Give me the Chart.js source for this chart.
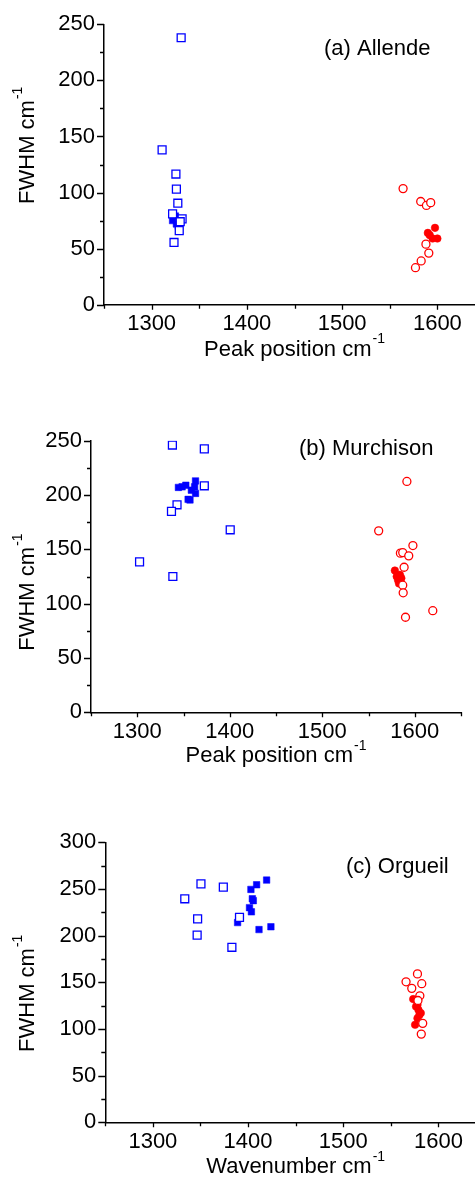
<!DOCTYPE html>
<html><head><meta charset="utf-8">
<script src="https://cdn.jsdelivr.net/npm/chart.js@4"></script>
<style>
html,body{margin:0;padding:0;background:#fff;overflow:hidden;width:475px;height:1178px;position:relative;}
.p{position:absolute;left:0;}
</style></head><body>
<canvas id="ca" class="p" style="top:0px" width="500" height="370"></canvas>
<canvas id="cb" class="p" style="top:380px" width="500" height="390"></canvas>
<canvas id="cc" class="p" style="top:790px" width="500" height="388"></canvas>
<script>
// ---------- Data ----------
// (a) Allende
const aSqOpenX = [1331, 1311, 1325.5, 1326, 1327.5, 1322, 1332, 1330, 1329, 1323.5];
const aSqOpenY = [238, 138, 116.5, 103, 90.5, 81, 76.5, 74, 66, 55.5];
const aSqFillX = [1322, 1325, 1326, 1328];
const aSqFillY = [75, 79, 72, 70];
const aCiOpenX = [1564, 1582.5, 1588.5, 1593, 1588, 1591, 1583, 1577];
const aCiOpenY = [103.5, 92, 88.5, 91, 54, 46, 39, 33];
const aCiFillX = [1597.5, 1590, 1592, 1595, 1600];
const aCiFillY = [68.5, 64, 62, 59, 59];
// (b) Murchison
const bSqOpenX = [1338, 1372.5, 1372.5, 1343, 1337, 1400.5, 1302.5, 1338.5];
const bSqOpenY = [246, 242.5, 208.5, 191, 185, 168, 138.5, 125];
const bSqFillX = [1344.5, 1348.5, 1352.5, 1363, 1362, 1358.5, 1363, 1355, 1357];
const bSqFillY = [207, 207.5, 209, 213, 207.5, 204.5, 201.5, 196, 195.5];
const bCiOpenX = [1591.5, 1561, 1598, 1584.5, 1587, 1593.5, 1588.5, 1587, 1587.5, 1590, 1619.5];
const bCiOpenY = [212.5, 167, 153.5, 146.5, 147, 144, 133.5, 117, 110, 87.5, 93.5];
const bCiFillX = [1578.5, 1580.5, 1582, 1584, 1583, 1585.5];
const bCiFillY = [130.5, 125, 121.5, 126.5, 118.5, 123.5];
// (c) Orgueil
const cSqOpenX = [1333.5, 1350.5, 1374, 1347, 1346.5, 1391, 1383];
const cSqOpenY = [239.5, 255.5, 252, 218, 200.5, 219.5, 187.5];
const cSqFillX = [1419.5, 1409, 1403, 1404.5, 1405.5, 1401.5, 1403.5, 1389, 1411.5, 1424];
const cSqFillY = [259.5, 254.5, 249.5, 239.5, 237.5, 230, 225.5, 214, 206.5, 209.5];
const cCiOpenX = [1578, 1566, 1582.5, 1572, 1580.5, 1578.5, 1583.5, 1582];
const cCiOpenY = [159, 150.5, 148.5, 143.5, 135.5, 130.5, 106, 94.5];
const cCiFillX = [1573.5, 1576.5, 1578, 1579, 1581.5, 1580, 1578, 1575.5];
const cCiFillY = [132, 124, 126, 120.5, 117, 115, 111.5, 104.5];

const xTickLabels = ['1300', '1400', '1500', '1600'];
const panelLabels = ['(a) Allende', '(b) Murchison', '(c) Orgueil'];
const xTitles = ['Peak position cm', 'Peak position cm', 'Wavenumber cm'];
const yTitle = 'FWHM cm';
const supText = '-1';

// ---------- Helpers ----------
const FONT = '"Liberation Sans", Arial, Helvetica, sans-serif';
const BLUE = '#0000ff', RED = '#ff0000';
function xy(xs, ys) { return xs.map((x, i) => ({x: x, y: ys[i]})); }

function drawWithSup(ctx, main, sup, x, y, centerMainOnly) {
  ctx.font = '22px ' + FONT;
  const mw = ctx.measureText(main).width;
  ctx.font = '14px ' + FONT;
  const sw = ctx.measureText(sup).width;
  const start = centerMainOnly ? x - mw / 2 : x - (mw + sw + 1) / 2;
  ctx.textAlign = 'left';
  ctx.textBaseline = 'middle';
  ctx.font = '22px ' + FONT;
  ctx.fillText(main, start, y);
  ctx.font = '14px ' + FONT;
  ctx.fillText(sup, start + mw + 1, y - 10);
}

const decorPlugin = {
  id: 'decor',
  beforeDraw(chart) {
    const c = chart.ctx;
    c.save(); c.fillStyle = '#fff'; c.fillRect(0, 0, chart.width, chart.height); c.restore();
  },
  afterDraw(chart) {
    const o = chart.options.plugins.decor;
    const ctx = chart.ctx, xs = chart.scales.x, ys = chart.scales.y;
    const area = chart.chartArea;
    ctx.save();
    ctx.strokeStyle = '#000';
    ctx.lineWidth = 1.3;
    ctx.beginPath();
    for (let v = ys.min; v <= ys.max + 0.01; v += 25) {
      const py = Math.round(ys.getPixelForValue(v)) + 0.5;
      const len = (v % 50 === 0) ? 7 : 4;
      ctx.moveTo(area.left, py); ctx.lineTo(area.left - len, py);
    }
    for (let v = xs.min; v <= xs.max + 0.01; v += 50) {
      const px = Math.round(xs.getPixelForValue(v)) + 0.5;
      const len = (v % 100 === 0) ? 5 : 4;
      ctx.moveTo(px, area.bottom); ctx.lineTo(px, area.bottom + len);
    }
    ctx.stroke();
    ctx.fillStyle = '#000';
    // panel label
    ctx.font = '22px ' + FONT;
    ctx.textAlign = 'left';
    ctx.textBaseline = 'middle';
    ctx.fillText(o.label, o.labelX, o.labelY);
    // x title
    drawWithSup(ctx, o.xTitle, supText, (area.left + area.right) / 2, o.xTitleY, false);
    // y title
    ctx.save();
    ctx.translate(o.yTitleX, o.yTitleY);
    ctx.rotate(-Math.PI / 2);
    drawWithSup(ctx, yTitle, supText, 0, 0, true);
    ctx.restore();
    ctx.restore();
  }
};

function makePanel(id, p) {
  const datasets = [
    {data: xy(p.sqOx, p.sqOy), pointStyle: 'rect', pointRadius: 5.6, pointBorderWidth: 1.3,
     pointBorderColor: BLUE, pointBackgroundColor: '#fff'},
    {data: xy(p.ciOx, p.ciOy), pointStyle: 'circle', pointRadius: 4, pointBorderWidth: 1.3,
     pointBorderColor: RED, pointBackgroundColor: '#fff'},
    {data: xy(p.sqFx, p.sqFy), pointStyle: 'rect', pointRadius: 4.6, pointBorderWidth: 0.5,
     pointBorderColor: BLUE, pointBackgroundColor: BLUE},
    {data: xy(p.ciFx, p.ciFy), pointStyle: 'circle', pointRadius: 3.8, pointBorderWidth: 0.5,
     pointBorderColor: RED, pointBackgroundColor: RED}
  ];
  const canvas = document.getElementById(id);
  const H = canvas.height, W = canvas.width;
  new Chart(canvas, {
    type: 'scatter',
    data: {datasets: datasets},
    plugins: [decorPlugin],
    options: {
      responsive: false, animation: false, events: [],
      layout: {padding: {left: 0, top: p.top, right: W - p.right, bottom: H - p.bottom - 40}},
      plugins: {
        legend: {display: false}, tooltip: {enabled: false},
        decor: {label: p.label, labelX: p.labelX, labelY: p.labelY, xTitle: p.xTitle,
                xTitleY: p.xTitleY, yTitleX: 28, yTitleY: p.yTitleY}
      },
      scales: {
        x: {
          type: 'linear', position: 'bottom', min: 1250, max: 1650,
          grid: {display: false, drawTicks: false},
          border: {display: true, color: '#000', width: 1.5},
          ticks: {stepSize: 50, autoSkip: false, maxRotation: 0, minRotation: 0, padding: 6,
                  color: '#000', font: {size: 22, family: FONT},
                  callback: v => xTickLabels.includes(String(v)) ? String(v) : ''},
          afterFit: s => { s.height = 40; }
        },
        y: {
          type: 'linear', position: 'left', min: 0, max: p.yMax,
          grid: {display: false, drawTicks: false},
          border: {display: true, color: '#000', width: 1.5},
          ticks: {stepSize: 50, autoSkip: false, padding: 9, color: '#000',
                  font: {size: 22, family: FONT}},
          afterFit: s => { s.width = p.left; }
        }
      }
    }
  });
}

makePanel('ca', {sqOx: aSqOpenX, sqOy: aSqOpenY, sqFx: aSqFillX, sqFy: aSqFillY,
  ciOx: aCiOpenX, ciOy: aCiOpenY, ciFx: aCiFillX, ciFy: aCiFillY, yMax: 250,
  left: 104, top: 24.3, right: 485, bottom: 304.7,
  label: panelLabels[0], labelX: 324, labelY: 49, xTitle: xTitles[0], xTitleY: 349.5, yTitleY: 152});
makePanel('cb', {sqOx: bSqOpenX, sqOy: bSqOpenY, sqFx: bSqFillX, sqFy: bSqFillY,
  ciOx: bCiOpenX, ciOy: bCiOpenY, ciFx: bCiFillX, ciFy: bCiFillY, yMax: 250,
  left: 91, top: 60.7, right: 461, bottom: 332.3,
  label: panelLabels[1], labelX: 299, labelY: 69.3, xTitle: xTitles[1], xTitleY: 376, yTitleY: 218.8});
makePanel('cc', {sqOx: cSqOpenX, sqOy: cSqOpenY, sqFx: cSqFillX, sqFy: cSqFillY,
  ciOx: cCiOpenX, ciOy: cCiOpenY, ciFx: cCiFillX, ciFy: cCiFillY, yMax: 300,
  left: 105.3, top: 52.3, right: 486, bottom: 332.3,
  label: panelLabels[2], labelX: 346, labelY: 76.7, xTitle: xTitles[2], xTitleY: 377, yTitleY: 210});
</script>
</body></html>
